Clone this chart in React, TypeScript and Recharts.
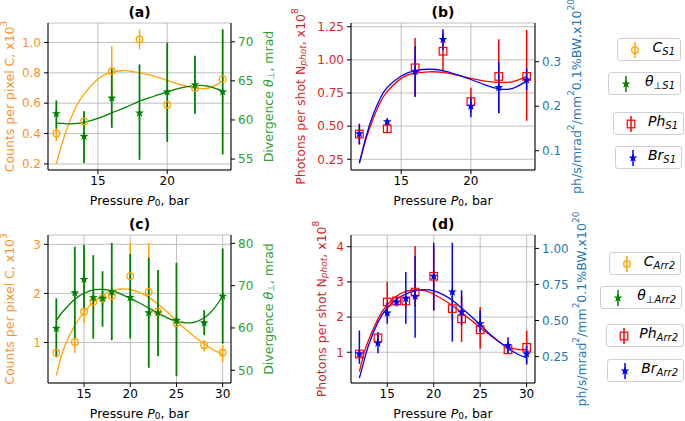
import React from "react"
import { ComposedChart, Scatter, Line, XAxis, YAxis, CartesianGrid, ErrorBar } from "recharts"

const FONT = "'DejaVu Sans', Verdana, sans-serif"
const ORANGE = "#ffa500"
const GREEN = "#008000"
const RED = "#ff0000"
const BLUE = "#0000ff"
const T_ORANGE = "#ff911e"
const T_GREEN = "#2ca02c"
const T_RED = "#d62728"
const T_BLUE = "#1f77b4"

// S1 target, panels (a) and (b)
const pressureS1 = [12, 14, 16, 18, 20, 22, 24]
const countsS1 = [0.40, 0.48, 0.81, 1.02, 0.59, 0.70, 0.76]
const countsS1Lo = [0.35, 0.45, 0.65, 0.955, 0.56, 0.67, 0.73]
const countsS1Hi = [0.44, 0.52, 0.975, 1.085, 0.62, 0.73, 0.79]
const divS1 = [60.8, 57.9, 62.8, 60.9, 63.6, 64.5, 63.6]
const divS1Lo = [58.9, 54.5, 59.0, 54.9, 57.2, 60.8, 55.6]
const divS1Hi = [62.5, 61.1, 66.6, 67.1, 69.9, 68.2, 71.6]
const photS1 = [0.44, 0.48, 0.94, 1.065, 0.685, 0.875, 0.875]
const photS1Lo = [0.36, 0.45, 0.72, 0.91, 0.6, 0.6, 0.54]
const photS1Hi = [0.52, 0.52, 1.165, 1.2, 0.79, 1.155, 1.225]
const brilS1 = [0.138, 0.165, 0.278, 0.35, 0.2, 0.242, 0.259]
const brilS1Lo = [0.115, 0.158, 0.221, 0.326, 0.175, 0.184, 0.236]
const brilS1Hi = [0.159, 0.172, 0.335, 0.373, 0.221, 0.3, 0.285]

// fitted curves
const fitPressureS1 = [12, 12.5, 13, 13.5, 14, 15, 16, 17, 18, 19, 20, 21, 22, 23, 24]
const countsFitS1 = [0.2, 0.36, 0.49, 0.59, 0.66, 0.76, 0.805, 0.815, 0.8, 0.78, 0.75, 0.72, 0.7, 0.7, 0.745]
const divFitS1 = [59.6, 59.55, 59.5, 59.55, 59.7, 60.2, 60.9, 61.6, 62.4, 63.0, 63.6, 64.1, 64.4, 64.3, 63.7]
const photFitS1 = [0.22, 0.41, 0.56, 0.68, 0.76, 0.86, 0.9, 0.91, 0.905, 0.885, 0.86, 0.84, 0.83, 0.835, 0.875]
const brilFitS1 = [0.072, 0.134, 0.182, 0.218, 0.242, 0.268, 0.28, 0.283, 0.28, 0.271, 0.26, 0.248, 0.239, 0.24, 0.257]

// Arr2 target, panels (c) and (d)
const pressureArr2 = [12, 14, 15, 16, 17, 18, 20, 22, 23, 25, 28, 30]
const countsArr2 = [0.79, 1.01, 1.625, 1.83, 1.9, 1.945, 2.35, 2.03, 1.625, 1.39, 0.945, 0.79]
const countsArr2Lo = [0.7, 0.79, 1.39, 1.7, 1.75, 1.8, 1.7, 1.05, 1.45, 1.25, 0.81, 0.6]
const countsArr2Hi = [0.88, 1.15, 1.85, 1.95, 2.05, 2.1, 3.03, 3.03, 1.8, 1.55, 1.05, 0.945]
const divArr2 = [59.9, 68.3, 71.5, 67.2, 67.0, 68.5, 67.2, 63.6, 63.6, 61.8, 61.2, 67.5]
const divArr2Lo = [53.1, 57.5, 64.4, 57.5, 60.3, 57.1, 57.5, 50.6, 53.3, 48.6, 58.3, 56.3]
const divArr2Hi = [67.0, 79.2, 79.6, 77.2, 73.4, 80.1, 77.5, 76.6, 73.7, 75.4, 64.2, 78.8]
const photArr2 = [0.95, 1.41, 2.43, 2.46, 2.46, 2.71, 3.16, 2.24, 1.95, 1.64, 1.07, 1.14]
const photArr2Lo = [0.85, 1.25, 2.0, 2.3, 2.3, 2.3, 2.19, 1.9, 1.29, 1.1, 0.98, 0.65]
const photArr2Hi = [1.05, 1.55, 3.0, 2.6, 2.6, 4.02, 4.0, 2.6, 2.6, 2.29, 1.2, 1.62]
const brilArr2 = [0.269, 0.343, 0.552, 0.628, 0.652, 0.668, 0.807, 0.698, 0.558, 0.478, 0.327, 0.269]
const brilArr2Lo = [0.2, 0.273, 0.478, 0.6, 0.478, 0.38, 0.57, 0.354, 0.466, 0.42, 0.27, 0.2]
const brilArr2Hi = [0.431, 0.42, 0.628, 0.66, 0.837, 0.946, 1.039, 1.039, 0.71, 0.57, 0.384, 0.327]

const fitPressureArr2 = [12, 12.5, 13, 14, 15, 16, 17, 18, 19, 20, 21, 22, 23, 24, 25, 26, 27, 28, 29, 30]
const countsFitArr2 = [0.33, 0.7, 0.97, 1.35, 1.62, 1.82, 1.96, 2.05, 2.09, 2.08, 2.02, 1.92, 1.78, 1.62, 1.44, 1.27, 1.11, 0.97, 0.85, 0.76]
const divFitArr2 = [61.8, 63.3, 64.6, 66.8, 68.2, 69.0, 69.1, 68.8, 68.0, 67.0, 65.9, 64.7, 63.5, 62.4, 61.6, 61.2, 61.4, 62.4, 64.4, 67.5]
const photFitArr2 = [0.45, 0.98, 1.35, 1.95, 2.35, 2.6, 2.73, 2.77, 2.75, 2.65, 2.5, 2.33, 2.13, 1.92, 1.7, 1.5, 1.3, 1.15, 1.08, 1.08]
const brilFitArr2 = [0.102, 0.22, 0.331, 0.489, 0.587, 0.648, 0.684, 0.706, 0.714, 0.706, 0.68, 0.64, 0.587, 0.531, 0.47, 0.409, 0.355, 0.307, 0.268, 0.241]

type Pt = { x: number; y: number; err: number[] }

const points = (xs: number[], ys: number[], lo: number[], hi: number[]): Pt[] =>
  xs.map((x, i) => ({ x, y: ys[i], err: [ys[i] - lo[i], hi[i] - ys[i]] }))
const curve = (xs: number[], ys: number[]) => xs.map((x, i) => ({ x, y: ys[i] }))

function starPoints(cx: number, cy: number, ro: number, ri: number) {
  const pts: string[] = []
  for (let i = 0; i < 10; i++) {
    const r = i % 2 === 0 ? ro : ri
    const a = -Math.PI / 2 + (i * Math.PI) / 5
    pts.push(`${cx + r * Math.cos(a)},${cy + r * Math.sin(a)}`)
  }
  return pts.join(" ")
}

const marker = (kind: string, color: string) => (p: any) => {
  const { cx, cy } = p
  if (cx == null || cy == null) return <g />
  if (kind === "circle")
    return <circle cx={cx} cy={cy} r={3.3} fill="none" stroke={color} strokeWidth={1.3} />
  if (kind === "square")
    return <rect x={cx - 3.8} y={cy - 3.8} width={7.6} height={7.6} fill="none" stroke={color} strokeWidth={1.2} />
  return <polygon points={starPoints(cx, cy, 4.6, 1.9)} fill={color} />
}

const YTitle = (props: any) => {
  const { viewBox, shift, color, parts } = props
  const cx = viewBox.x + shift
  const cy = viewBox.y + viewBox.height / 2
  return (
    <text x={cx} y={cy} transform={`rotate(-90 ${cx} ${cy})`} textAnchor="middle" dominantBaseline="central"
      fill={color} fontSize={12.5} fontFamily={FONT}>
      {parts}
    </text>
  )
}

// x-axis title plus the panel caption above the plot frame
const XTitle = (props: any) => {
  const { viewBox, caption, plotTop } = props
  const cx = viewBox.x + viewBox.width / 2
  return (
    <g>
      <text x={cx} y={plotTop - 11.5} textAnchor="middle" dominantBaseline="central"
        fill="#000" fontSize={14} fontWeight="bold" fontFamily={FONT}>
        {caption}
      </text>
      <text x={cx} y={viewBox.y + 30} textAnchor="middle" dominantBaseline="central"
        fill="#000" fontSize={12.5} fontFamily={FONT}>
        Pressure <tspan fontStyle="italic">P</tspan>
        <tspan dy={3} fontSize={9}>0</tspan>
        <tspan dy={-3}>, bar</tspan>
      </text>
    </g>
  )
}

const countsTitle = [
  <tspan key="a">Counts per pixel C, x10</tspan>,
  <tspan key="b" dy={-5} fontSize={9}>3</tspan>,
]
const divTitle = [
  <tspan key="a">Divergence </tspan>,
  <tspan key="b" fontStyle="italic">θ</tspan>,
  <tspan key="c" dy={3} fontSize={9}>⊥</tspan>,
  <tspan key="d" dy={-3}>, mrad</tspan>,
]
const photTitle = [
  <tspan key="a">Photons per shot N</tspan>,
  <tspan key="b" dy={3} fontSize={9} fontStyle="italic">phot</tspan>,
  <tspan key="c" dy={-3}>, x10</tspan>,
  <tspan key="d" dy={-5} fontSize={9}>8</tspan>,
]
const brilTitle = [
  <tspan key="a">ph/s/mrad</tspan>,
  <tspan key="b" dy={-5} fontSize={9}>2</tspan>,
  <tspan key="c" dy={5}>/mm</tspan>,
  <tspan key="d" dy={-5} fontSize={9}>2</tspan>,
  <tspan key="e" dy={5}>0.1%BW,x10</tspan>,
  <tspan key="f" dy={-5} fontSize={9}>20</tspan>,
]

type Series = {
  kind: "pts" | "fit"
  data: any[]
  axis: "l" | "r"
  color: string
  shape?: string
  errWidth?: number
}

type PanelProps = {
  left: number
  top: number
  width: number
  height: number
  marginTop: number
  xAxisHeight: number
  leftWidth: number
  rightWidth: number
  caption: string
  xDomain: number[]
  xTicks: number[]
  lDomain: number[]
  lTicks: number[]
  lFmt: (v: number) => string
  lColor: string
  lTitle: React.ReactNode
  lShift: number
  rDomain: number[]
  rTicks: number[]
  rFmt: (v: number) => string
  rColor: string
  rTitle: React.ReactNode
  rShift: number
  series: Series[]
}

function Panel(p: PanelProps) {
  const font = { fontSize: 12, fontFamily: FONT }
  return (
    <div style={{ position: "absolute", left: p.left, top: p.top }}>
      <ComposedChart width={p.width} height={p.height} margin={{ top: p.marginTop, right: 0, bottom: 0, left: 0 }}>
        <CartesianGrid yAxisId="l" stroke="#b0b0b0" strokeWidth={0.8} />
        <XAxis xAxisId="top" orientation="top" type="number" dataKey="x" domain={p.xDomain} allowDataOverflow
          height={0} tick={false} tickLine={false} axisLine={{ stroke: "#000" }} />
        <XAxis type="number" dataKey="x" domain={p.xDomain} ticks={p.xTicks} allowDataOverflow interval={0}
          height={p.xAxisHeight} tickSize={4} tickMargin={2} tick={{ ...font, fill: "#000" }}
          tickLine={{ stroke: "#000" }} axisLine={{ stroke: "#000" }}
          label={<XTitle caption={p.caption} plotTop={p.marginTop} />} />
        <YAxis yAxisId="l" type="number" domain={p.lDomain} ticks={p.lTicks} allowDataOverflow interval={0}
          width={p.leftWidth} tickSize={4} tickMargin={3} tickFormatter={p.lFmt} tick={{ ...font, fill: p.lColor }}
          tickLine={{ stroke: "#000" }} axisLine={{ stroke: "#000" }}
          label={<YTitle shift={p.lShift} color={p.lColor} parts={p.lTitle} />} />
        <YAxis yAxisId="r" orientation="right" type="number" domain={p.rDomain} ticks={p.rTicks} allowDataOverflow
          interval={0} width={p.rightWidth} tickSize={4} tickMargin={3} tickFormatter={p.rFmt}
          tick={{ ...font, fill: p.rColor }} tickLine={{ stroke: "#000" }} axisLine={{ stroke: "#000" }}
          label={<YTitle shift={p.rShift} color={p.rColor} parts={p.rTitle} />} />
        {p.series.map((s, i) =>
          s.kind === "fit" ? (
            <Line key={i} data={s.data} dataKey="y" yAxisId={s.axis} type="natural" stroke={s.color}
              strokeWidth={1.3} dot={false} activeDot={false} isAnimationActive={false} />
          ) : (
            <Scatter key={i} data={s.data} dataKey="y" yAxisId={s.axis} shape={marker(s.shape || "circle", s.color)}
              isAnimationActive={false}>
              <ErrorBar dataKey="err" direction="y" width={0} stroke={s.color} strokeWidth={s.errWidth || 1.5} />
            </Scatter>
          )
        )}
      </ComposedChart>
    </div>
  )
}

const one = (v: number) => v.toFixed(1)
const two = (v: number) => v.toFixed(2)
const plain = (v: number) => String(v)

const legendS1 = [
  { main: "C", sub: "S1", color: ORANGE, shape: "circle", left: 617, top: 38, width: 64 },
  { main: "θ", sub: "⊥S1", color: GREEN, shape: "star", left: 608, top: 72, width: 73 },
  { main: "Ph", sub: "S1", color: RED, shape: "square", left: 613, top: 112, width: 71 },
  { main: "Br", sub: "S1", color: BLUE, shape: "star", left: 615, top: 146, width: 67 },
]
const legendArr2 = [
  { main: "C", sub: "Arr2", color: ORANGE, shape: "circle", left: 609, top: 252, width: 72 },
  { main: "θ", sub: "⊥Arr2", color: GREEN, shape: "star", left: 600, top: 286, width: 82 },
  { main: "Ph", sub: "Arr2", color: RED, shape: "square", left: 606, top: 324, width: 78 },
  { main: "Br", sub: "Arr2", color: BLUE, shape: "star", left: 607, top: 359, width: 77 },
]

function LegendBox({ item }: { item: any }) {
  return (
    <div
      style={{
        position: "absolute", left: item.left, top: item.top, width: item.width, height: 23,
        border: "1px solid #d0d0d0", borderRadius: 3, background: "#fff", boxSizing: "border-box",
        display: "flex", alignItems: "center", justifyContent: "space-between", padding: "0 5px 0 11px",
        fontFamily: FONT, fontSize: 14, color: "#000",
      }}
    >
      <svg width={12} height={18}>
        <line x1={6} y1={1} x2={6} y2={17} stroke={item.color} strokeWidth={1.5} />
        {marker(item.shape, item.color)({ cx: 6, cy: 9 })}
      </svg>
      <span style={{ fontStyle: "italic", lineHeight: "14px" }}>
        {item.main}
        <sub style={{ fontSize: 10, verticalAlign: "-3px" }}>{item.sub}</sub>
      </span>
    </div>
  )
}

export default function App() {
  const panelA: PanelProps = {
    left: 0, top: 0, width: 310, height: 210, marginTop: 23, xAxisHeight: 40, leftWidth: 48, rightWidth: 79,
    caption: "(a)", xDomain: [11.4, 24.6], xTicks: [15, 20],
    lDomain: [0.16, 1.128], lTicks: [0.2, 0.4, 0.6, 0.8, 1.0], lFmt: one, lColor: T_ORANGE, lTitle: countsTitle, lShift: 9,
    rDomain: [53.6, 72.4], rTicks: [55, 60, 65, 70], rFmt: plain, rColor: T_GREEN, rTitle: divTitle, rShift: 36.5,
    series: [
      { kind: "pts", data: points(pressureS1, countsS1, countsS1Lo, countsS1Hi), axis: "l", color: ORANGE, shape: "circle" },
      { kind: "fit", data: curve(fitPressureS1, countsFitS1), axis: "l", color: ORANGE },
      { kind: "pts", data: points(pressureS1, divS1, divS1Lo, divS1Hi), axis: "r", color: GREEN, shape: "star", errWidth: 1.8 },
      { kind: "fit", data: curve(fitPressureS1, divFitS1), axis: "r", color: GREEN },
    ],
  }
  const panelB: PanelProps = {
    left: 290, top: 0, width: 310, height: 210, marginTop: 23, xAxisHeight: 40, leftWidth: 61, rightWidth: 65,
    caption: "(b)", xDomain: [11.4, 24.6], xTicks: [15, 20],
    lDomain: [0.169, 1.278], lTicks: [0.25, 0.5, 0.75, 1.0, 1.25], lFmt: two, lColor: T_RED, lTitle: photTitle, lShift: 10,
    rDomain: [0.0566, 0.387], rTicks: [0.1, 0.2, 0.3], rFmt: one, rColor: T_BLUE, rTitle: brilTitle, rShift: 41,
    series: [
      { kind: "pts", data: points(pressureS1, photS1, photS1Lo, photS1Hi), axis: "l", color: RED, shape: "square" },
      { kind: "fit", data: curve(fitPressureS1, photFitS1), axis: "l", color: RED },
      { kind: "pts", data: points(pressureS1, brilS1, brilS1Lo, brilS1Hi), axis: "r", color: BLUE, shape: "star" },
      { kind: "fit", data: curve(fitPressureS1, brilFitS1), axis: "r", color: BLUE },
    ],
  }
  const panelC: PanelProps = {
    left: 0, top: 210, width: 310, height: 211, marginTop: 25, xAxisHeight: 38, leftWidth: 48, rightWidth: 79,
    caption: "(c)", xDomain: [11.1, 30.9], xTicks: [15, 20, 25, 30],
    lDomain: [0.175, 3.19], lTicks: [1, 2, 3], lFmt: plain, lColor: T_ORANGE, lTitle: countsTitle, lShift: 9,
    rDomain: [47.0, 81.97], rTicks: [50, 60, 70, 80], rFmt: plain, rColor: T_GREEN, rTitle: divTitle, rShift: 36.5,
    series: [
      { kind: "pts", data: points(pressureArr2, countsArr2, countsArr2Lo, countsArr2Hi), axis: "l", color: ORANGE, shape: "circle" },
      { kind: "fit", data: curve(fitPressureArr2, countsFitArr2), axis: "l", color: ORANGE },
      { kind: "pts", data: points(pressureArr2, divArr2, divArr2Lo, divArr2Hi), axis: "r", color: GREEN, shape: "star", errWidth: 1.8 },
      { kind: "fit", data: curve(fitPressureArr2, divFitArr2), axis: "r", color: GREEN },
    ],
  }
  const panelD: PanelProps = {
    left: 290, top: 210, width: 310, height: 211, marginTop: 25, xAxisHeight: 38, leftWidth: 61, rightWidth: 65,
    caption: "(d)", xDomain: [11.1, 30.9], xTicks: [15, 20, 25, 30],
    lDomain: [0.126, 4.334], lTicks: [1, 2, 3, 4], lFmt: plain, lColor: T_RED, lTitle: photTitle, lShift: 31,
    rDomain: [0.067, 1.093], rTicks: [0.25, 0.5, 0.75, 1.0], rFmt: two, rColor: T_BLUE, rTitle: brilTitle, rShift: 46,
    series: [
      { kind: "pts", data: points(pressureArr2, photArr2, photArr2Lo, photArr2Hi), axis: "l", color: RED, shape: "square" },
      { kind: "fit", data: curve(fitPressureArr2, photFitArr2), axis: "l", color: RED },
      { kind: "pts", data: points(pressureArr2, brilArr2, brilArr2Lo, brilArr2Hi), axis: "r", color: BLUE, shape: "star" },
      { kind: "fit", data: curve(fitPressureArr2, brilFitArr2), axis: "r", color: BLUE },
    ],
  }

  return (
    <div style={{ position: "absolute", left: 0, top: 0, width: 685, height: 421, background: "#fff", overflow: "hidden" }}>
      <Panel {...panelA} />
      <Panel {...panelB} />
      <Panel {...panelC} />
      <Panel {...panelD} />
      {legendS1.concat(legendArr2).map((item, i) => (
        <LegendBox key={i} item={item} />
      ))}
    </div>
  )
}
